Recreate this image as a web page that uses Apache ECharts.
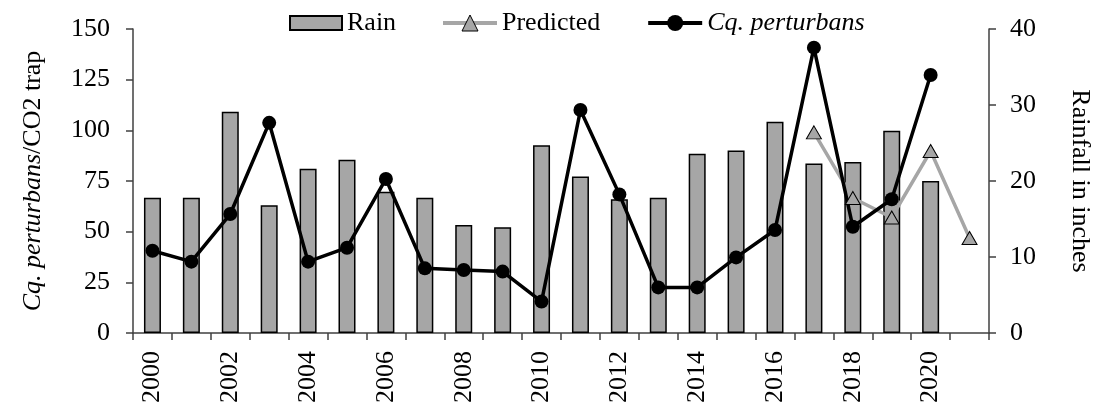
<!DOCTYPE html>
<html>
<head>
<meta charset="utf-8">
<script src="https://cdn.jsdelivr.net/npm/echarts@6/dist/echarts.min.js"></script>
<style>html,body{margin:0;padding:0;background:#fff}#c{width:1094px;height:408px}</style>
</head>
<body>
<div id="c"></div>
<script>
var years = ['2000','2001','2002','2003','2004','2005','2006','2007','2008','2009','2010','2011','2012','2013','2014','2015','2016','2017','2018','2019','2020','2021'];
var rain = [17.8,17.8,29.1,16.8,21.6,22.8,18.6,17.8,14.2,13.9,24.7,20.6,17.6,17.8,23.6,24.0,27.8,22.3,22.5,26.6,20.0,null];
var predicted = [null,null,null,null,null,null,null,null,null,null,null,null,null,null,null,null,null,99,66.6,57,89.8,46.9];
var cq = [40.6,35.2,58.7,103.7,35.2,42.1,76.0,31.9,31.1,30.3,15.5,110.0,68.4,22.5,22.5,37.3,50.8,140.8,52.4,66.0,127.3,null];
var leftTicks = {min:0, max:150, interval:25};
var rightTicks = {min:0, max:40, interval:10};

var FONT = '"Liberation Serif", "Times New Roman", serif';
var FS = 26;
var legendText = {fontFamily:FONT, fontSize:FS, color:'#000',
  rich:{i:{fontFamily:FONT, fontSize:FS, fontStyle:'italic', color:'#000'}}};
var legendFmt = function(n){return n==='Cq. perturbans' ? '{i|Cq. perturbans}' : n;};
var chart = echarts.init(document.getElementById('c'), null, {renderer:'canvas'});
chart.setOption({
  animation:false,
  textStyle:{fontFamily:FONT, color:'#000'},
  legend:[
    {left:289, top:10, padding:0, itemWidth:52, itemHeight:14,
     data:[{name:'Rain', icon:'rect'}],
     formatter:legendFmt, textStyle:legendText},
    {left:441, top:10, padding:0, itemWidth:54, itemHeight:20, itemGap:46,
     data:[
       {name:'Predicted', lineStyle:{width:4, color:'#a6a6a6'}, itemStyle:{color:'#a6a6a6', borderColor:'#000', borderWidth:1}},
       {name:'Cq. perturbans', lineStyle:{width:4, color:'#000'}}
     ],
     formatter:legendFmt, textStyle:legendText}
  ],
  grid:{left:133, right:105, top:29, bottom:75, containLabel:false, outerBoundsMode:'none'},
  xAxis:{
    type:'category', data:years, boundaryGap:true,
    axisLine:{lineStyle:{color:'#404040', width:1.5}},
    axisTick:{show:true, interval:0, length:7, lineStyle:{color:'#404040', width:1.5}},
    axisLabel:{interval:1, rotate:90, fontFamily:FONT, fontSize:FS, color:'#000', margin:18}
  },
  yAxis:[
    {type:'value', min:leftTicks.min, max:leftTicks.max, interval:leftTicks.interval, position:'left',
     name:'{i|Cq. perturbans}/CO2 trap', nameLocation:'middle', nameGap:87, nameRotate:90,
     nameTextStyle:{fontFamily:FONT, fontSize:FS, color:'#000', rich:{i:{fontFamily:FONT, fontSize:FS, fontStyle:'italic', color:'#000'}}},
     axisLine:{show:true, lineStyle:{color:'#404040', width:1.5}},
     axisTick:{show:true, length:7, lineStyle:{color:'#404040', width:1.5}},
     splitLine:{show:false},
     axisLabel:{fontFamily:FONT, fontSize:FS, color:'#000', margin:23}},
    {type:'value', min:rightTicks.min, max:rightTicks.max, interval:rightTicks.interval, position:'right',
     name:'Rainfall in inches', nameLocation:'middle', nameGap:78, nameRotate:-90,
     nameTextStyle:{fontFamily:FONT, fontSize:FS, color:'#000'},
     axisLine:{show:true, lineStyle:{color:'#404040', width:1.5}},
     axisTick:{show:true, length:7, lineStyle:{color:'#404040', width:1.5}},
     splitLine:{show:false},
     axisLabel:{fontFamily:FONT, fontSize:FS, color:'#000', margin:21}}
  ],
  series:[
    {name:'Rain', type:'bar', yAxisIndex:1, data:rain, barWidth:17,
     itemStyle:{color:'#a6a6a6', borderColor:'#000', borderWidth:1.5}},
    {name:'Predicted', type:'line', yAxisIndex:0, data:predicted, connectNulls:false,
     symbol:'triangle', symbolSize:[15,13],
     lineStyle:{color:'#a6a6a6', width:3.5},
     itemStyle:{color:'#a6a6a6', borderColor:'#000', borderWidth:1}},
    {name:'Cq. perturbans', type:'line', yAxisIndex:0, data:cq,
     symbol:'circle', symbolSize:14,
     lineStyle:{color:'#000', width:3.5},
     itemStyle:{color:'#000', borderColor:'#000', borderWidth:0}}
  ]
});
</script>
</body>
</html>
